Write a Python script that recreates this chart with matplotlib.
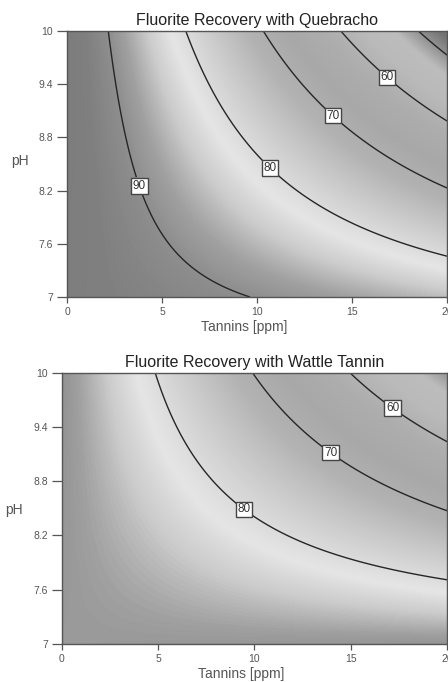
import numpy as np
import matplotlib
matplotlib.use('Agg')
import matplotlib.pyplot as plt
from matplotlib.colors import LinearSegmentedColormap, Normalize

# axis ranges and ticks
tannin_range = [0, 20]
ph_range = [7, 10]
x_ticks = [0, 5, 10, 15, 20]
y_ticks = [7, 7.6, 8.2, 8.8, 9.4, 10]
y_tick_labels = ['7', '7.6', '8.2', '8.8', '9.4', '10']

# response surface:
# recovery = b0 + bT*T + bP*(pH-10) + bTP*T*(pH-10) + bPP*(pH-10)^2
quebracho_coef = [95.3, -2.45, 0.05, -0.685, -0.15]
wattle_coef = [89.6, -1.98, 0.30, -0.67, 0.0]

quebracho_levels = [60, 70, 80, 90]
quebracho_extra = [50]          # drawn, not labelled
quebracho_label_pos = [(17.0, 9.52), (14.1, 9.07), (10.8, 8.48), (3.65, 8.24)]
wattle_levels = [60, 70, 80]
wattle_extra = []
wattle_label_pos = [(17.3, 9.65), (14.1, 9.16), (9.6, 8.53)]

titles = ['Fluorite Recovery with Quebracho', 'Fluorite Recovery with Wattle Tannin']

# grey shading as seen in the print (value -> grey level)
shade_r = [40, 47, 50, 53, 57, 62, 67, 72, 77, 82, 85, 88, 90, 93, 100]
shade_g = [0.40, 0.45, 0.58, 0.74, 0.73, 0.68, 0.66, 0.70, 0.80, 0.90, 0.80, 0.63, 0.56, 0.50, 0.47]
vmin, vmax = 40, 100
cmap = LinearSegmentedColormap.from_list(
    'print_grey', [((r - vmin) / (vmax - vmin), (g, g, g)) for r, g in zip(shade_r, shade_g)])

T, P = np.meshgrid(np.linspace(*tannin_range, 400), np.linspace(*ph_range, 300))


def surface(c):
    d = P - 10
    return c[0] + c[1] * T + c[2] * d + c[3] * T * d + c[4] * d ** 2


fig = plt.figure(figsize=(4.48, 6.82), dpi=100)
ax_top = fig.add_axes([0.150, 0.5645, 0.848, 0.390])
ax_bot = fig.add_axes([0.1377, 0.0557, 0.8607, 0.3978])

panels = [(ax_top, quebracho_coef, quebracho_levels, quebracho_extra, quebracho_label_pos, 0.511),
          (ax_bot, wattle_coef, wattle_levels, wattle_extra, wattle_label_pos, 0.495)]

for i, (ax, coef, levels, extra, label_pos, ph_y) in enumerate(panels):
    R = surface(coef)
    ax.imshow(R, extent=tannin_range + ph_range, origin='lower', aspect='auto',
              cmap=cmap, norm=Normalize(vmin, vmax), interpolation='bilinear')
    if extra:
        ax.contour(T, P, R, levels=extra, colors='#262626', linewidths=1.0)
    cs = ax.contour(T, P, R, levels=levels, colors='#262626', linewidths=1.0)
    texts = ax.clabel(cs, manual=label_pos, inline=True,
                      fmt='%d', fontsize=8.5, colors='#333333', inline_spacing=2)
    for t in texts:
        t.set_rotation(0)
        t.set_bbox(dict(facecolor='white', edgecolor='#444444', linewidth=1.0, pad=1.2))
        t.set_family('Liberation Sans')

    ax.set_xlim(tannin_range)
    ax.set_ylim(ph_range)
    ax.set_xticks(x_ticks)
    ax.set_yticks(y_ticks)
    ax.set_yticklabels(y_tick_labels)
    ax.tick_params(axis='x', length=4.5, width=0.9, color='#555555', labelcolor='#555555',
                   labelsize=7.5, pad=3)
    ax.tick_params(axis='y', length=7.5, width=0.9, color='#555555', labelcolor='#555555',
                   labelsize=7.5, pad=2.5)
    for lab in ax.get_xticklabels() + ax.get_yticklabels():
        lab.set_family('Liberation Sans')
    for s in ax.spines.values():
        s.set_color('#555555')
        s.set_linewidth(1.0)

    ax.set_title(titles[i], fontsize=11.5, family='Liberation Sans', color='#222222', pad=4)
    ax.set_xlabel('Tannins [ppm]', fontsize=10, color='#555555', family='Liberation Sans')
    ax.xaxis.set_label_coords(0.465, -0.085)
    ax.set_ylabel('pH', fontsize=10, color='#555555', family='Liberation Sans',
                  rotation=0, va='center', ha='center')
    ax.yaxis.set_label_coords(-0.125, ph_y)

fig.savefig('out.png', dpi=100)
